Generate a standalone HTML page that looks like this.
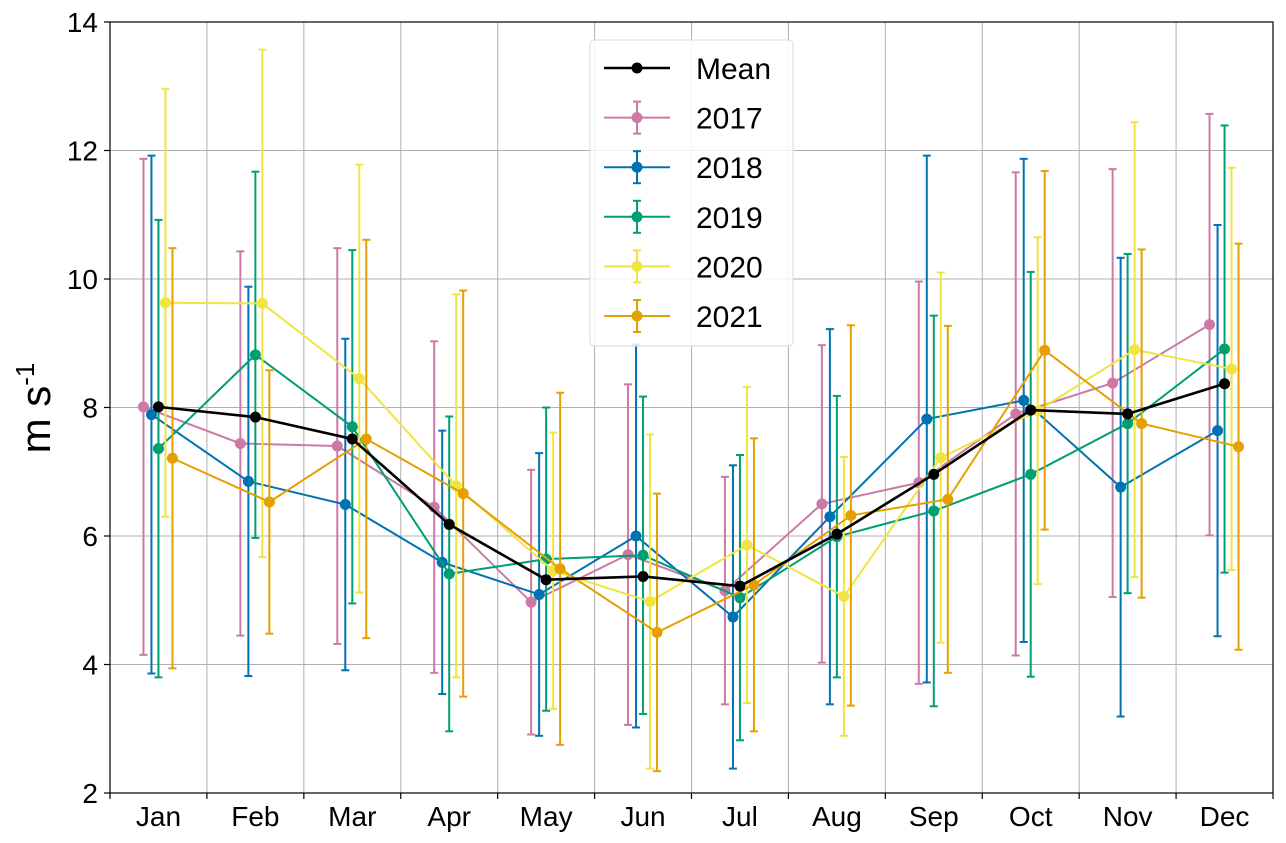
<!DOCTYPE html>
<html><head><meta charset="utf-8"><style>
html,body{margin:0;padding:0;background:#fff;}
svg{display:block;font-family:"Liberation Sans",sans-serif;}
</style></head><body>
<svg id="chart" width="1286" height="843" viewBox="0 0 1286 843" xmlns="http://www.w3.org/2000/svg"></svg>
<script>
const months = ["Jan","Feb","Mar","Apr","May","Jun","Jul","Aug","Sep","Oct","Nov","Dec"];
const yTicks = [2,4,6,8,10,12,14];
const meanVals = [8.01,7.85,7.51,6.18,5.32,5.37,5.22,6.03,6.96,7.96,7.90,8.37];
const v2017 = [8.01,7.44,7.40,6.45,4.97,5.71,5.15,6.50,6.83,7.90,8.38,9.29];
const s2017 = [3.86,2.99,3.08,2.58,2.06,2.65,1.77,2.47,3.13,3.76,3.33,3.28];
const v2018 = [7.89,6.85,6.49,5.59,5.09,6.00,4.74,6.30,7.82,8.11,6.76,7.64];
const s2018 = [4.03,3.03,2.58,2.05,2.20,2.98,2.36,2.92,4.10,3.76,3.57,3.20];
const v2019 = [7.36,8.82,7.70,5.41,5.64,5.70,5.04,5.99,6.39,6.96,7.75,8.91];
const s2019 = [3.56,2.85,2.75,2.45,2.36,2.47,2.22,2.19,3.04,3.15,2.64,3.48];
const v2020 = [9.63,9.62,8.45,6.78,5.46,4.98,5.86,5.06,7.22,7.95,8.90,8.60];
const s2020 = [3.33,3.95,3.33,2.98,2.15,2.60,2.46,2.17,2.88,2.70,3.54,3.13];
const v2021 = [7.21,6.53,7.51,6.66,5.49,4.50,5.24,6.32,6.57,8.89,7.75,7.39];
const s2021 = [3.27,2.05,3.10,3.16,2.74,2.16,2.28,2.96,2.70,2.79,2.71,3.16];

const series = [
 {name:"2017",vals:v2017,sd:s2017,color:"#CC79A7",off:-15},
 {name:"2018",vals:v2018,sd:s2018,color:"#0072B2",off:-7},
 {name:"2019",vals:v2019,sd:s2019,color:"#009E73",off:0},
 {name:"2020",vals:v2020,sd:s2020,color:"#F0E442",off:7},
 {name:"2021",vals:v2021,sd:s2021,color:"#E69F00",off:14}
];
const L=110,R=1273,T=22,B=793,ymin=2,ymax=14;
const bw=(R-L)/12;
function xS(i){return L+bw*(i+0.5);}
function yS(v){return B-(v-ymin)/(ymax-ymin)*(B-T);}
const svg=document.getElementById('chart');
const NS="http://www.w3.org/2000/svg";
function mk(tag,at,parent){const e=document.createElementNS(NS,tag);for(const k in at)e.setAttribute(k,at[k]);(parent||svg).appendChild(e);return e;}

const grid=mk('g',{});


yTicks.forEach(t=>{mk('line',{x1:L,x2:R,y1:yS(t),y2:yS(t),stroke:'#b0b0b0','stroke-width':1},grid);});
for(let i=1;i<12;i++){mk('line',{x1:L+bw*i,x2:L+bw*i,y1:T,y2:B,stroke:'#b0b0b0','stroke-width':1},grid);}

const yax=mk('g',{});


yTicks.forEach(t=>{
 mk('line',{x1:L-6,x2:L,y1:yS(t),y2:yS(t),stroke:'#000','stroke-width':1.2},yax);
 const tx=mk('text',{x:L-12,y:yS(t)+10,'text-anchor':'end','font-size':28,fill:'#000'},yax);
 tx.textContent=t;
 
 
});
const xax=mk('g',{});


for(let i=0;i<=12;i++){mk('line',{x1:L+bw*i,x2:L+bw*i,y1:B,y2:B+6,stroke:'#000','stroke-width':1.2},xax);}
months.forEach((m,i)=>{
 const tx=mk('text',{x:xS(i),y:826,'text-anchor':'middle','font-size':28,fill:'#000'},xax);
 tx.textContent=m;
 
 
});
const yt=mk('text',{transform:'translate(50,408) rotate(-90)','text-anchor':'middle','font-size':42,fill:'#000'});
yt.innerHTML='m s<tspan dy="-16" font-size="26">-1</tspan>';



series.forEach(s=>{
 const g=mk('g',{});
 
 
 s.vals.forEach((v,i)=>{
  const x=xS(i)+s.off, t=yS(v+s.sd[i]), b=yS(v-s.sd[i]);
  mk('line',{x1:x,x2:x,y1:t,y2:b,stroke:s.color,'stroke-width':2},g);
  mk('line',{x1:x-4,x2:x+4,y1:t,y2:t,stroke:s.color,'stroke-width':2},g);
  mk('line',{x1:x-4,x2:x+4,y1:b,y2:b,stroke:s.color,'stroke-width':2},g);
 });
 const pts=s.vals.map((v,i)=>(xS(i)+s.off)+','+yS(v)).join(' ');
 mk('polyline',{points:pts,fill:'none',stroke:s.color,'stroke-width':2},g);
 s.vals.forEach((v,i)=>{
  const c=mk('circle',{cx:xS(i)+s.off,cy:yS(v),r:5.5,fill:s.color},g);
  
  
 });
});
const mg=mk('g',{});


mk('polyline',{points:meanVals.map((v,i)=>xS(i)+','+yS(v)).join(' '),fill:'none',stroke:'#000','stroke-width':2.6},mg);
meanVals.forEach((v,i)=>{mk('circle',{cx:xS(i),cy:yS(v),r:5.5,fill:'#000'},mg);});

const lg=mk('g',{});


mk('rect',{x:590,y:40,width:203,height:306,rx:4,fill:'rgba(255,255,255,0.85)',stroke:'#d8d8d8','stroke-width':1},lg);
const entries=[{name:"Mean",color:"#000",err:false}].concat(series.map(s=>({name:s.name,color:s.color,err:true})));
entries.forEach((e,k)=>{
 const y=68+k*49.6;
 const eg=mk('g',{},lg);
 
 
 mk('line',{x1:604,x2:670,y1:y,y2:y,stroke:e.color,'stroke-width':e.err?2:2.6},eg);
 if(e.err){
  mk('line',{x1:637,x2:637,y1:y-16,y2:y+16,stroke:e.color,'stroke-width':2},eg);
  mk('line',{x1:633,x2:641,y1:y-16,y2:y-16,stroke:e.color,'stroke-width':2},eg);
  mk('line',{x1:633,x2:641,y1:y+16,y2:y+16,stroke:e.color,'stroke-width':2},eg);
 }
 mk('circle',{cx:637,cy:y,r:5.5,fill:e.color},eg);
 const t=mk('text',{x:696,y:y+11,'font-size':30,fill:'#000'},eg);
 t.textContent=e.name;
});

const sp=mk('rect',{x:L,y:T,width:R-L,height:B-T,fill:'none',stroke:'#000','stroke-width':1.2});


</script>
</body></html>
